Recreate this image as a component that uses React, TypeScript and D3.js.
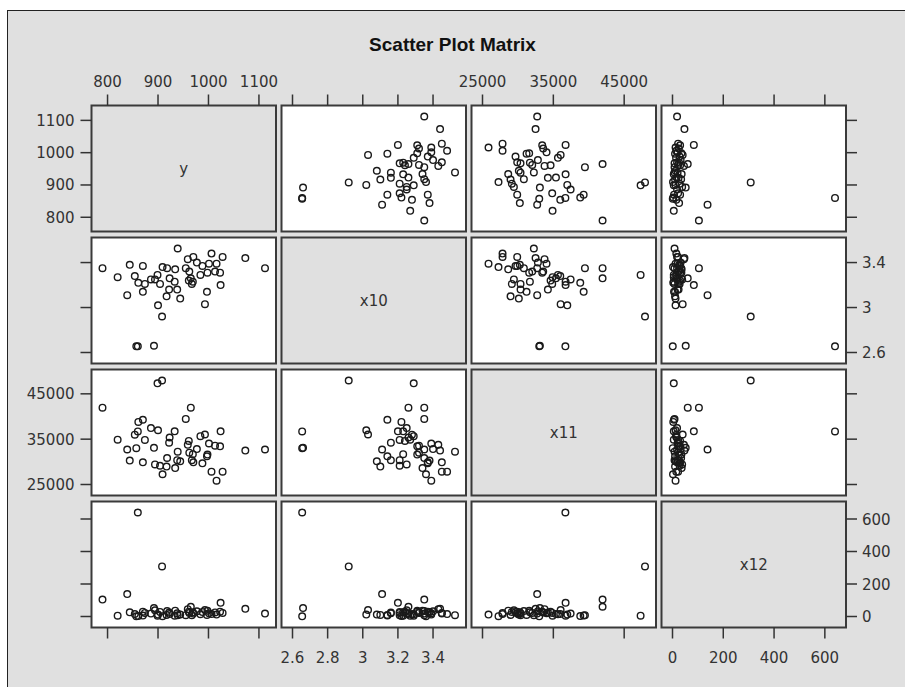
import React from 'react';
import * as d3 from 'd3';

// variable names, in matrix order
const varNames = ['y', 'x10', 'x11', 'x12'];

// observations (one entry per observation, same order in every array)
const yVals = [1112, 1073, 1028, 1024, 1023, 1016, 1013, 1006, 1001, 998, 997, 993, 988, 984, 977, 970, 969, 967, 965, 962, 961, 959, 955, 944, 939, 938, 934, 933, 923, 922, 918, 917, 908, 909, 904, 900, 899, 894, 892, 886, 874, 870, 870, 861, 860, 857, 854, 844, 839, 820, 790];
const x10Vals = [3.35, 3.44, 3.45, 3.2, 3.31, 3.39, 3.32, 3.48, 3.39, 3.31, 3.14, 3.03, 3.37, 3.29, 3.4, 3.45, 3.23, 3.21, 3.26, 3.32, 3.24, 3.43, 3.35, 3.08, 3.525, 3.16, 3.34, 3.23, 3.26, 3.16, 3.35, 3.1, 2.92, 3.36, 3.21, 3.02, 3.29, 3.25, 2.66, 3.25, 3.21, 3.14, 3.37, 3.22, 2.655, 2.655, 3.28, 3.38, 3.11, 3.27, 3.35];
const x11Vals = [32720, 32490, 27830, 36730, 33430, 25850, 33570, 27830, 34040, 31590, 31220, 36030, 29660, 35650, 32820, 29900, 31690, 30370, 41950, 32020, 34610, 33760, 39460, 30130, 32250, 30370, 28630, 36730, 35370, 34230, 30840, 28960, 47940, 27260, 29140, 36970, 47320, 29430, 33100, 37440, 34840, 39280, 29900, 38800, 36700, 33010, 35980, 30270, 32720, 34890, 41950];
const x12Vals = [18, 47, 22, 84, 30, 12, 25, 15, 20, 35, 10, 40, 28, 14, 32, 18, 26, 8, 60, 22, 30, 45, 8, 12, 8, 20, 36, 5, 16, 24, 34, 10, 308, 2, 28, 12, 5, 38, 52, 18, 22, 6, 30, 3, 640, 1, 15, 26, 138, 5, 104];

// tick values: horizontal axes and vertical axes
const xTicks = [
  [800, 900, 1000, 1100],
  [2.6, 2.8, 3, 3.2, 3.4],
  [25000, 35000, 45000],
  [0, 200, 400, 600],
];
const yTicks = [
  [800, 900, 1000, 1100],
  [2.6, 3, 3.4],
  [25000, 35000, 45000],
  [0, 200, 400, 600],
];

const columns = [yVals, x10Vals, x11Vals, x12Vals];

const W = 905, H = 687;
const left0 = 91.5, top0 = 105.5;
const colStep = 190, rowStep = 132;
const pw = 184.5, ph = 126;
const pad = 11, tickLen = 11;
const font = 'DejaVu Sans, sans-serif';
const ink = '#333';

function domainOf(i: number): [number, number] {
  const vals = columns[i];
  const t = xTicks[i].concat(yTicks[i]);
  return [Math.min(d3.min(vals)!, d3.min(t)!), Math.max(d3.max(vals)!, d3.max(t)!)];
}

export default function App() {
  const n = varNames.length;
  const xs = varNames.map((_, c) => {
    const l = left0 + c * colStep;
    return d3.scaleLinear().domain(domainOf(c)).range([l + pad, l + pw - pad]);
  });
  const ys = varNames.map((_, r) => {
    const t = top0 + r * rowStep;
    return d3.scaleLinear().domain(domainOf(r)).range([t + ph - pad, t + pad]);
  });
  const bottom = top0 + (n - 1) * rowStep + ph;
  const right = left0 + (n - 1) * colStep + pw;

  const panels: React.ReactNode[] = [];
  for (let r = 0; r < n; r++) {
    for (let c = 0; c < n; c++) {
      const px = left0 + c * colStep, py = top0 + r * rowStep;
      const diag = r === c;
      panels.push(
        <g key={`p${r}-${c}`}>
          <rect x={px} y={py} width={pw} height={ph} fill={diag ? '#e0e0e0' : '#ffffff'} />
          {diag ? (
            <text x={px + pw / 2} y={py + ph / 2 + 5.5} textAnchor="middle" fontFamily={font} fontSize={15} fill={ink}>
              {varNames[r]}
            </text>
          ) : (
            columns[c].map((v, i) => (
              <circle key={i} cx={xs[c](v)} cy={ys[r](columns[r][i])} r={3.3} fill="none" stroke="#1a1a1a" strokeWidth={1.4} />
            ))
          )}
          <rect x={px} y={py} width={pw} height={ph} fill="none" stroke="#3a3a3a" strokeWidth={2} />
        </g>
      );
    }
  }

  const axes: React.ReactNode[] = [];
  for (let c = 0; c < n; c++) {
    xTicks[c].forEach((t, i) => {
      const x = xs[c](t);
      axes.push(<line key={`tt${c}-${i}`} x1={x} x2={x} y1={top0} y2={top0 - tickLen} stroke={ink} strokeWidth={1.5} />);
      axes.push(<line key={`tb${c}-${i}`} x1={x} x2={x} y1={bottom} y2={bottom + tickLen} stroke={ink} strokeWidth={1.5} />);
      if (c % 2 === 0) {
        axes.push(<text key={`lt${c}-${i}`} x={x} y={top0 - tickLen - 8} textAnchor="middle" fontFamily={font} fontSize={15} fill={ink}>{String(t)}</text>);
      } else {
        axes.push(<text key={`lb${c}-${i}`} x={x} y={bottom + tickLen + 24.5} textAnchor="middle" fontFamily={font} fontSize={15} fill={ink}>{String(t)}</text>);
      }
    });
  }
  for (let r = 0; r < n; r++) {
    yTicks[r].forEach((t, i) => {
      const y = ys[r](t);
      axes.push(<line key={`tl${r}-${i}`} x1={left0} x2={left0 - tickLen} y1={y} y2={y} stroke={ink} strokeWidth={1.5} />);
      axes.push(<line key={`tr${r}-${i}`} x1={right} x2={right + tickLen} y1={y} y2={y} stroke={ink} strokeWidth={1.5} />);
      if (r % 2 === 0) {
        axes.push(<text key={`ll${r}-${i}`} x={left0 - tickLen - 6} y={y + 5.5} textAnchor="end" fontFamily={font} fontSize={15} fill={ink}>{String(t)}</text>);
      } else {
        axes.push(<text key={`lr${r}-${i}`} x={right + tickLen + 5} y={y + 5.5} textAnchor="start" fontFamily={font} fontSize={15} fill={ink}>{String(t)}</text>);
      }
    });
  }

  return (
    <div style={{ position: 'absolute', left: 0, top: 0 }}>
      <svg width={W} height={H} style={{ display: 'block', background: '#ffffff' }}>
        <rect x={7.5} y={10.5} width={W + 20} height={H + 20} fill="#e0e0e0" stroke="#222" strokeWidth={1} />
        <text x={W / 2} y={51} textAnchor="middle" fontFamily="Liberation Sans, Arial, sans-serif" fontWeight="bold" fontSize={19} fill="#111">
          Scatter Plot Matrix
        </text>
        {panels}
        {axes}
      </svg>
    </div>
  );
}
